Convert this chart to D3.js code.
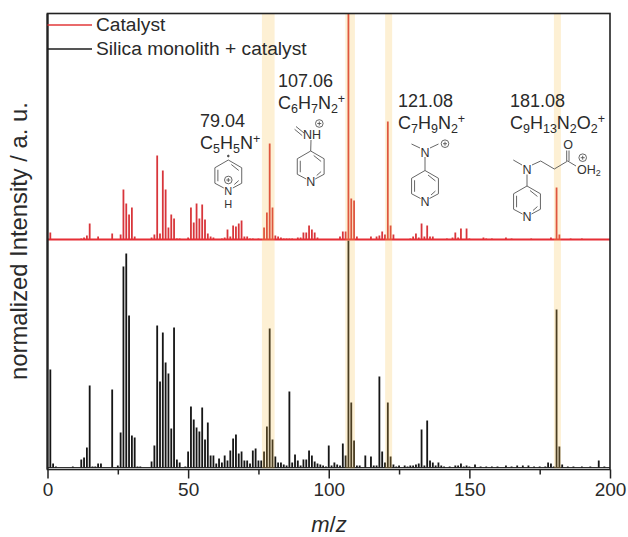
<!DOCTYPE html>
<html>
<head>
<meta charset="utf-8">
<script src="https://cdn.jsdelivr.net/npm/d3@7"></script>
<style>
html,body{margin:0;padding:0;background:#fff}
svg{display:block}
text{font-family:"Liberation Sans",Arial,sans-serif;fill:#2a2a2a}
</style>
</head>
<body>
<svg id="chart" width="628" height="537"></svg>
<script>
// Values (arbitrary intensity units, full panel height = 454)
const catalystMz = [1,12,13,14,15,18,23,26,27,28,29,30,31,37,38,39,40,41,42,43,44,45,46,47,50,51,52,53,54,55,56,57,58,59,62,63,64,65,66,67,68,69,70,71,72,73,75,77,78,79,80,81,82,83,84,85,86,87,89,90,91,92,93,94,95,96,104,105,106,107,108,109,110,115,117,118,119,120,121,122,123,129,130,131,132,133,134,135,136,137,142,144,145,146,147,149,150,155,156,158,163,165,172,179,181,182,186,190];
const catalystI = [7,1,2,4,16,3,6,5,50,36,25,32,3,2,5,84,6,69,50,12,25,21,1,1,2,32,17,36,21,35,20,6,3,2,1,2,10,3,14,13,16,19,3,3,1,1,1,12,27,96,32,4,3,2,1,1,1,1,2,2,7,7,14,10,7,2,3,8,8,226,41,39,3,3,3,4,8,5,118,14,5,1,3,6,2,16,3,14,3,3,1,2,7,2,11,11,1,2,1,1,2,1,1,2,52,5,1,1];
const monolithMz = [1,2,3,9,12,13,14,15,16,17,18,19,23,25,26,27,28,29,30,31,32,33,37,38,39,40,41,42,43,44,45,46,47,49,50,51,52,53,54,55,56,57,58,59,60,61,62,63,64,65,66,67,68,69,70,71,72,73,74,75,76,77,78,79,80,81,82,83,84,85,86,87,88,89,90,91,92,93,94,95,96,97,98,99,100,101,102,103,104,105,106,107,108,109,110,111,113,115,116,117,118,119,120,121,122,123,124,125,127,128,129,130,131,132,133,134,135,136,137,138,139,140,141,143,145,146,147,148,149,150,152,154,156,158,160,163,165,167,169,171,173,175,177,178,179,180,181,182,183,185,187,190,193,196,198];
const monolithI = [98,4,1,1,8,10,20,82,1,1,4,4,78,2,35,201,214,152,32,30,1,1,6,22,142,86,135,105,94,39,140,8,5,1,16,61,48,40,36,60,28,45,12,12,4,9,5,12,7,17,29,33,14,16,7,7,4,17,19,7,7,16,41,139,28,11,5,5,3,2,76,5,13,7,2,8,8,17,12,6,4,3,2,1,22,2,5,3,2,24,12,227,65,27,2,2,12,11,2,2,91,16,5,65,11,3,1,2,2,1,2,2,3,4,38,2,47,7,5,2,5,2,1,1,2,2,4,1,2,1,3,1,1,1,1,2,1,2,2,2,1,1,1,5,4,1,158,21,3,1,1,1,1,7,1];
const highlightCentres = [78.5,107.6,121.3,181.3];
const highlightWidths = [4.5,3.4,2.5,2.5];
const xTicksMajor = [0,50,100,150,200];
const xTicksMinor = [25,75,125,175];
const legendNames = ["Catalyst","Silica monolith + catalyst"];
const legendColours = ["#e2383a","#1c1c1c"];
const peakMasses = ["79.04","107.06","121.08","181.08"];
const peakFormulas = [
  [["C"],["5","s"],["H"],["5","s"],["N"],["+","u"]],
  [["C"],["6","s"],["H"],["7","s"],["N"],["2","s"],["+","u"]],
  [["C"],["7","s"],["H"],["9","s"],["N"],["2","s"],["+","u"]],
  [["C"],["9","s"],["H"],["13","s"],["N"],["2","s"],["O"],["2","s"],["+","u"]]
];
const catalystOffset = 228;

const svg = d3.select("#chart");
const defs = svg.append("defs");
defs.append("filter").attr("id","soft").attr("x","-5%").attr("y","-5%").attr("width","110%").attr("height","110%")
  .append("feGaussianBlur").attr("stdDeviation",0.4);

const x = d3.scaleLinear().domain([0,200]).range([47.5,610]);
const y = d3.scaleLinear().domain([0,454]).range([467.5,13.5]);

const bars = svg.append("g").attr("filter","url(#soft)");
bars.append("line").attr("x1",x(0)).attr("x2",x(200)).attr("y1",y(0)).attr("y2",y(0)).attr("stroke","#333").attr("stroke-width",1);
bars.selectAll(".m").data(monolithMz).join("line").attr("class","m")
  .attr("x1",d=>x(d)).attr("x2",d=>x(d)).attr("y1",y(0))
  .attr("y2",(d,i)=>y(monolithI[i])).attr("stroke","#141414").attr("stroke-width",1.8);
bars.selectAll(".c").data(catalystMz).join("line").attr("class","c")
  .attr("x1",d=>x(d)).attr("x2",d=>x(d)).attr("y1",y(catalystOffset))
  .attr("y2",(d,i)=>y(catalystOffset+catalystI[i])).attr("stroke","#d8363b").attr("stroke-width",1.8);
bars.append("line").attr("x1",x(0)).attr("x2",x(200)).attr("y1",y(catalystOffset)).attr("y2",y(catalystOffset)).attr("stroke","#e62e34").attr("stroke-width",2);

svg.selectAll(".band").data(highlightCentres).join("rect").attr("class","band")
  .attr("x",(d,i)=>x(d-highlightWidths[i]/2))
  .attr("width",(d,i)=>x(d+highlightWidths[i]/2)-x(d-highlightWidths[i]/2))
  .attr("y",y(454)).attr("height",y(0)-y(454)+1)
  .attr("fill","#f8c24a").attr("opacity",0.24);

const root = svg.append("g").attr("filter","url(#soft)");
root.append("rect").attr("x",x(0)).attr("y",y(454)).attr("width",x(200)-x(0)).attr("height",y(-2)-y(454))
  .attr("fill","none").attr("stroke","#222").attr("stroke-width",1.6);
root.append("line").attr("x1",x(0)).attr("x2",x(0)).attr("y1",y(454)).attr("y2",y(-2)).attr("stroke","#222").attr("stroke-width",2.2);

const axisG = svg.append("g").attr("transform",`translate(0,${y(-2)})`);
axisG.call(d3.axisBottom(x).tickValues(xTicksMajor).tickSize(9).tickPadding(4).tickFormat(d3.format("d")));
axisG.select(".domain").remove();
axisG.selectAll("line").attr("stroke","#222").attr("stroke-width",1.5);
axisG.selectAll("text").attr("font-size",19).attr("font-family","'Liberation Sans',Arial,sans-serif");
const axisMinor = svg.append("g").attr("transform",`translate(0,${y(-2)})`)
  .call(d3.axisBottom(x).tickValues(xTicksMinor).tickSize(5).tickFormat(""));
axisMinor.select(".domain").remove();
axisMinor.selectAll("line").attr("stroke","#222").attr("stroke-width",1.5);
axisMinor.selectAll("text").remove();

const xt = svg.append("text").attr("x",329).attr("y",532).attr("text-anchor","middle").attr("font-size",22);
xt.append("tspan").attr("font-style","italic").text("m");
xt.append("tspan").text("/");
xt.append("tspan").attr("font-style","italic").text("z");
svg.append("text").attr("transform","translate(27,241) rotate(-90)").attr("text-anchor","middle")
  .attr("font-size",23.8).text("normalized Intensity / a. u.");

const legendY = [25,49];
legendNames.forEach((n,i)=>{
  svg.append("line").attr("x1",x(0)).attr("x2",92).attr("y1",legendY[i]).attr("y2",legendY[i])
    .attr("stroke",legendColours[i]).attr("stroke-width",1.6);
  svg.append("text").attr("x",96).attr("y",legendY[i]+6).attr("font-size",19.2).text(n);
});

const labelX = [200,278,398,510];
const labelY = [127,87,107,107];
peakMasses.forEach((m,i)=>{
  const g = svg.append("g").attr("transform",`translate(${labelX[i]},${labelY[i]})`);
  g.append("text").attr("font-size",18).text(m);
  const t = g.append("text").attr("y",22).attr("font-size",18);
  peakFormulas[i].forEach(p=>{
    const ts = t.append("tspan").text(p[0]);
    if(p[1]==="s") ts.attr("font-size",12.5).attr("baseline-shift",-4);
    if(p[1]==="u") ts.attr("font-size",12.5).attr("baseline-shift",6);
  });
});

const mol = svg.append("g").attr("stroke","#555").attr("stroke-width",0.9).attr("fill","none");
const R = 15.5, co = Math.cos(Math.PI/6)*R, hf = R/2;
function seg(a,b,c,d){ mol.append("line").attr("x1",a).attr("y1",b).attr("x2",c).attr("y2",d); }
function small(tx,ty,s,size){ svg.append("text").attr("x",tx).attr("y",ty).attr("font-size",size||12.5).attr("text-anchor","middle").style("fill","#333").text(s); }
function plus(cx,cy){
  mol.append("circle").attr("cx",cx).attr("cy",cy).attr("r",3.8);
  seg(cx-2,cy,cx+2,cy); seg(cx,cy-2,cx,cy+2);
}
function ring(cx,cy,size){
  seg(cx,cy-R,cx+co,cy-hf);
  seg(cx+co,cy-hf,cx+co,cy+hf);
  seg(cx+co,cy+hf,cx+4.5,cy+R-3);
  seg(cx-4.5,cy+R-3,cx-co,cy+hf);
  seg(cx-co,cy+hf,cx-co,cy-hf);
  seg(cx-co,cy-hf,cx,cy-R);
  seg(cx+3,cy-R+4.5,cx+co-3,cy-hf+2.7);
  seg(cx+co-3,cy+hf-2.7,cx+6,cy+R-6.5);
  seg(cx-co+3,cy+hf-2,cx-co+3,cy-hf+2);
  small(cx,cy+R+4.2,"N",size);
}
ring(228.3,175.5,11);
mol.append("circle").attr("cx",228.3).attr("cy",156).attr("r",0.9).attr("fill","#333");
plus(228.3,180);
small(228.3,207.5,"H",11);
ring(310.7,166.5);
seg(310.7,151,311,140);
small(312,139,"NH");
seg(304,133,296,126.5); seg(302.2,135.6,294.6,129.3);
plus(319.3,123.5);
ring(425,186);
seg(425,170.5,425,157);
small(425,156.5,"N");
seg(420,148,411.5,144); seg(430,148,438.5,144);
plus(445,143.7);
ring(527,201.5);
seg(527,186,527,174.5);
small(527,174,"N");
seg(522,165,513.3,160);
seg(532,165,540.7,161); seg(540.7,161,554.3,169); seg(554.3,169,567.7,161);
seg(566.7,161,566.7,150.5); seg(569,161,569,150.5);
small(568,149,"O",12.5);
seg(567.7,161,576,166);
plus(582.7,157.7);
const oh = svg.append("text").attr("x",577).attr("y",173.5).attr("font-size",12.5).style("fill","#333");
oh.append("tspan").text("OH");
oh.append("tspan").attr("font-size",9).attr("baseline-shift",-2).text("2");
</script>
</body>
</html>
